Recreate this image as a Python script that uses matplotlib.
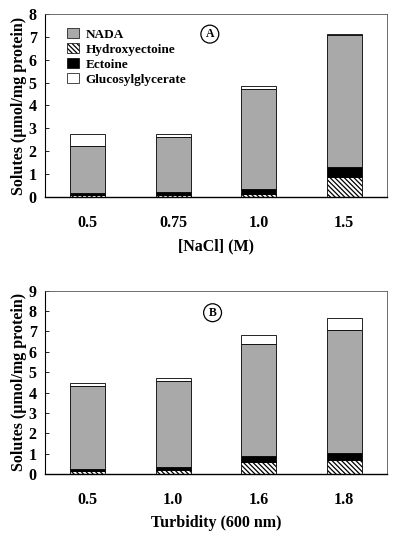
import matplotlib
matplotlib.use("Agg")
import matplotlib.pyplot as plt
import numpy as np
from matplotlib.patches import Patch

plt.rcParams['font.family'] = ['Liberation Serif', 'DejaVu Serif']
plt.rcParams['font.weight'] = 'bold'
plt.rcParams['hatch.linewidth'] = 0.9
plt.rcParams['hatch.color'] = '#222222'

# Panel A
cats_a = ["0.5", "0.75", "1.0", "1.5"]
hydroxy_a = [0.10, 0.10, 0.15, 0.86]
ectoine_a = [0.07, 0.10, 0.20, 0.43]
nada_a = [2.06, 2.44, 4.36, 5.78]
gg_a = [0.52, 0.10, 0.13, 0.07]

# Panel B
cats_b = ["0.5", "1.0", "1.6", "1.8"]
hydroxy_b = [0.13, 0.21, 0.58, 0.68]
ectoine_b = [0.13, 0.14, 0.29, 0.34]
nada_b = [4.08, 4.24, 5.53, 6.04]
gg_b = [0.11, 0.13, 0.45, 0.61]

NADA_C = '#a9a9a9'
HATCH = '\\' * 7

fig = plt.figure(figsize=(4.0, 5.36), dpi=100)
ax_a = fig.add_axes([0.1125, 0.6325, 0.855, 0.3414])
ax_b = fig.add_axes([0.1125, 0.1157, 0.855, 0.3419])

def draw(ax, cats, hy, ec, na, gg, ymax, xlabel, letter, letter_x, letter_y, legend):
    x = np.arange(len(cats))
    w = 0.41
    hy = np.array(hy); ec = np.array(ec); na = np.array(na); gg = np.array(gg)
    ax.bar(x, hy, w, color='white', edgecolor='black', hatch=HATCH, linewidth=0.6)
    ax.bar(x, ec, w, bottom=hy, color='black', edgecolor='black', linewidth=0.6)
    ax.bar(x, na, w, bottom=hy + ec, color=NADA_C, edgecolor='black', linewidth=0.6)
    ax.bar(x, gg, w, bottom=hy + ec + na, color='white', edgecolor='black', linewidth=0.6)
    ax.set_xlim(-0.5, 3.5)
    ax.set_ylim(0, ymax)
    ax.set_yticks(range(0, ymax + 1))
    ax.set_xticks(x)
    ax.set_xticklabels(cats, fontsize=11.5, fontweight='bold')
    ax.tick_params(axis='x', length=0, pad=13)
    ax.tick_params(axis='y', direction='in', length=3, width=0.6, labelsize=11.5, pad=6)
    for lab in ax.get_yticklabels():
        lab.set_fontweight('bold')
    for s in ['top', 'right']:
        ax.spines[s].set_linewidth(0.6)
        ax.spines[s].set_color('#555555')
    ax.spines['left'].set_linewidth(0.8)
    ax.spines['bottom'].set_linewidth(1.0)
    ax.set_ylabel('Solutes (\u00b5mol/mg protein)', fontsize=11.5, fontweight='bold', labelpad=1)
    ax.set_xlabel(xlabel, fontsize=11.5, fontweight='bold', labelpad=5)
    ax.text(letter_x, letter_y, letter, transform=ax.transAxes, ha='center', va='center',
            fontsize=8.5, fontweight='bold',
            bbox=dict(boxstyle='circle,pad=0.25', fc='white', ec='black', lw=0.9))
    if legend:
        handles = [Patch(facecolor=NADA_C, edgecolor='black', lw=0.5, label='NADA'),
                   Patch(facecolor='white', edgecolor='black', lw=0.5, hatch=HATCH, label='Hydroxyectoine'),
                   Patch(facecolor='black', edgecolor='black', lw=0.5, label='Ectoine'),
                   Patch(facecolor='white', edgecolor='black', lw=0.5, label='Glucosylglycerate')]
        ax.legend(handles=handles, loc='upper left', bbox_to_anchor=(0.05, 0.955), frameon=False,
                  prop={'size': 9.5, 'weight': 'bold'}, handlelength=0.85, handleheight=0.9,
                  handletextpad=0.55, labelspacing=0.15, borderaxespad=0.0)

draw(ax_a, cats_a, hydroxy_a, ectoine_a, nada_a, gg_a, 8, '[NaCl] (M)', 'A', 0.482, 0.89, True)
draw(ax_b, cats_b, hydroxy_b, ectoine_b, nada_b, gg_b, 9, 'Turbidity (600 nm)', 'B', 0.49, 0.88, False)

fig.savefig('out.png', dpi=100)
